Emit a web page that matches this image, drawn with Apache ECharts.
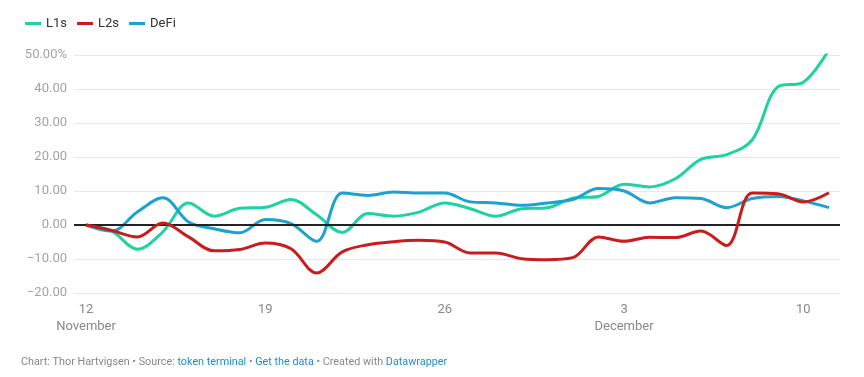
<!DOCTYPE html>
<html>
<head>
<meta charset="utf-8">
<script src="https://cdn.jsdelivr.net/npm/echarts@6/dist/echarts.min.js"></script>
<style>
  html, body { margin: 0; padding: 0; background: #fff; }
  #chart { width: 864px; height: 377px; }
</style>
</head>
<body>
<div id="chart"></div>
<script>
// days from 12 November to 11 December
const dayIndex = Array.from({ length: 30 }, (_, i) => i)
const tickDays = [0, 7, 14, 21, 28]
const tickLabels = ['12\nNovember', '19', '26', '3\nDecember', '10']
const yTicks = [-20, -10, 0, 10, 20, 30, 40, 50]

const l1s = [0, -1.8, -7.1, -2, 6.5, 2.6, 4.9, 5.2, 7.5, 3, -2.2, 3.4, 2.6, 3.8, 6.5,
  4.8, 2.6, 4.8, 5.1, 7.9, 8.4, 12, 11.2, 13.6, 19.3, 20.7, 25, 40.6, 42, 51.6]
const l2s = [0, -1.6, -3.5, 0.6, -3.5, -7.6, -7.2, -5.3, -7, -14.1, -7.9, -5.8, -4.9, -4.5, -5,
  -8.2, -8.2, -9.9, -10.2, -9.6, -3.5, -4.8, -3.6, -3.7, -1.8, -6, 9.4, 9.2, 6.8, 9.5]
const defi = [0, -1.8, 3.8, 8, 0.9, -1.1, -2.3, 1.6, 0.4, -4.8, 9.4, 8.7, 9.7, 9.4, 9.4,
  6.8, 6.5, 5.8, 6.5, 7.5, 10.7, 10, 6.5, 8, 7.8, 5.1, 7.8, 8.4, 7.1, 5.1]

const FONT = 'Roboto, "Noto Sans", sans-serif'

function pairs(values) {
  return values.map((v, i) => [dayIndex[i], v])
}

function lineSeries(name, values, color, z) {
  return {
    name: name,
    type: 'line',
    data: pairs(values),
    smooth: 0.35,
    showSymbol: false,
    symbol: 'none',
    z: z,
    lineStyle: { color: color, width: 3 },
    itemStyle: { color: color }
  }
}

let myChart = echarts.init(document.getElementById('chart'), null, { renderer: 'canvas' })

let series = [
  lineSeries('L1s', l1s, '#1dd3a0', 3),
  lineSeries('DeFi', defi, '#1ba2d0', 4),
  lineSeries('L2s', l2s, '#c91d1d', 5)
]
// black zero line
series[0].markLine = {
  silent: true,
  symbol: 'none',
  label: { show: false },
  lineStyle: { color: '#222', width: 2, type: 'solid' },
  data: [{ yAxis: 0 }]
}

myChart.setOption({
  animation: false,
  textStyle: { fontFamily: FONT },
  legend: {
    left: 20,
    top: 12,
    icon: 'rect',
    itemWidth: 16,
    itemHeight: 3,
    itemGap: 10,
    textStyle: { color: '#333', fontSize: 13, fontFamily: FONT },
    data: ['L1s', 'L2s', 'DeFi']
  },
  grid: { left: 74, right: 24, top: 55, bottom: 84 },
  xAxis: {
    type: 'value',
    min: -0.47,
    max: 29.43,
    axisLine: { show: false },
    axisTick: { show: false },
    splitLine: { show: false },
    axisLabel: {
      customValues: tickDays,
      color: '#888',
      fontSize: 13,
      lineHeight: 17,
      margin: 8,
      fontFamily: FONT,
      formatter: v => tickLabels[tickDays.indexOf(Math.round(v))] || ''
    }
  },
  yAxis: {
    type: 'value',
    min: yTicks[0],
    max: yTicks[yTicks.length - 1],
    interval: 10,
    axisLine: { show: false },
    axisTick: { show: false },
    splitLine: { lineStyle: { color: '#e8e8e8', width: 1 } },
    axisLabel: {
      color: '#a3a3a3',
      fontSize: 13,
      margin: 7,
      fontFamily: FONT,
      formatter: v => {
        let s = Math.abs(v).toFixed(2)
        if (v < 0) s = '\u2212' + s
        if (v === 50) s += '%'
        return s
      }
    }
  },
  graphic: [{
    type: 'text',
    left: 21,
    top: 357,
    style: {
      text: '{g|Chart: Thor Hartvigsen • Source: }{b|token terminal}{g| • }{b|Get the data}{g| • Created with }{b|Datawrapper}',
      rich: {
        g: { fill: '#888', fontSize: 10.8, fontFamily: FONT },
        b: { fill: '#1d8fc7', fontSize: 10.8, fontFamily: FONT }
      }
    }
  }],
  series: series
})
</script>
</body>
</html>
